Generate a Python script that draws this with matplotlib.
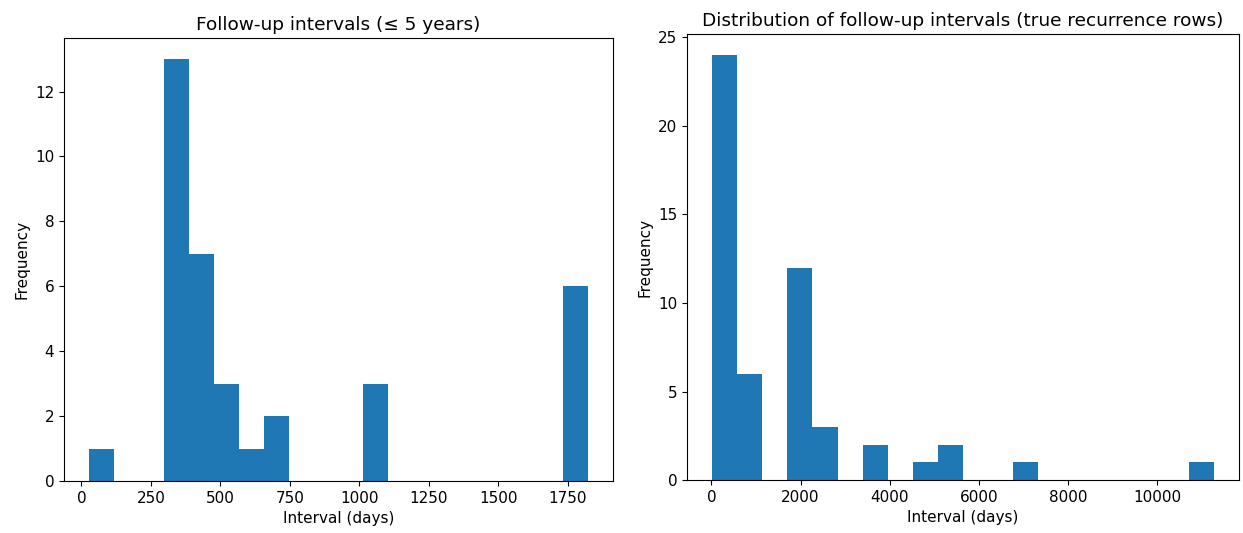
import numpy as np
import matplotlib
matplotlib.use("Agg")
import matplotlib.pyplot as plt

# histogram counts per bin (20 equal-width bins each)
short_counts = [1, 0, 0, 13, 7, 3, 1, 2, 0, 0, 0, 3, 0, 0, 0, 0, 0, 0, 0, 6]
short_range = (27, 1824)

recur_counts = [24, 6, 0, 12, 3, 0, 2, 0, 1, 2, 0, 0, 1, 0, 0, 0, 0, 0, 0, 1]
recur_range = (15, 11270)

short_bins = np.linspace(short_range[0], short_range[1], len(short_counts) + 1)
recur_bins = np.linspace(recur_range[0], recur_range[1], len(recur_counts) + 1)

plt.rcParams["xtick.labelsize"] = 11
plt.rcParams["ytick.labelsize"] = 11
plt.rcParams["axes.labelsize"] = 11
plt.rcParams["axes.titlesize"] = 13.3

fig = plt.figure(figsize=(12.43, 5.33), dpi=100)
ax1 = fig.add_axes([0.0515, 0.0976, 0.4417, 0.831])
ax2 = fig.add_axes([0.5527, 0.0994, 0.444, 0.837])

ax1.hist(short_bins[:-1], bins=short_bins, weights=short_counts)
ax1.set_title("Follow-up intervals (≤ 5 years)")
ax1.set_xlabel("Interval (days)")
ax1.set_ylabel("Frequency")
ax1.set_xticks([0, 250, 500, 750, 1000, 1250, 1500, 1750])

ax2.hist(recur_bins[:-1], bins=recur_bins, weights=recur_counts)
ax2.set_title("Distribution of follow-up intervals (true recurrence rows)")
ax2.set_xlabel("Interval (days)")
ax2.set_ylabel("Frequency")

fig.savefig("out.png", dpi=100)
